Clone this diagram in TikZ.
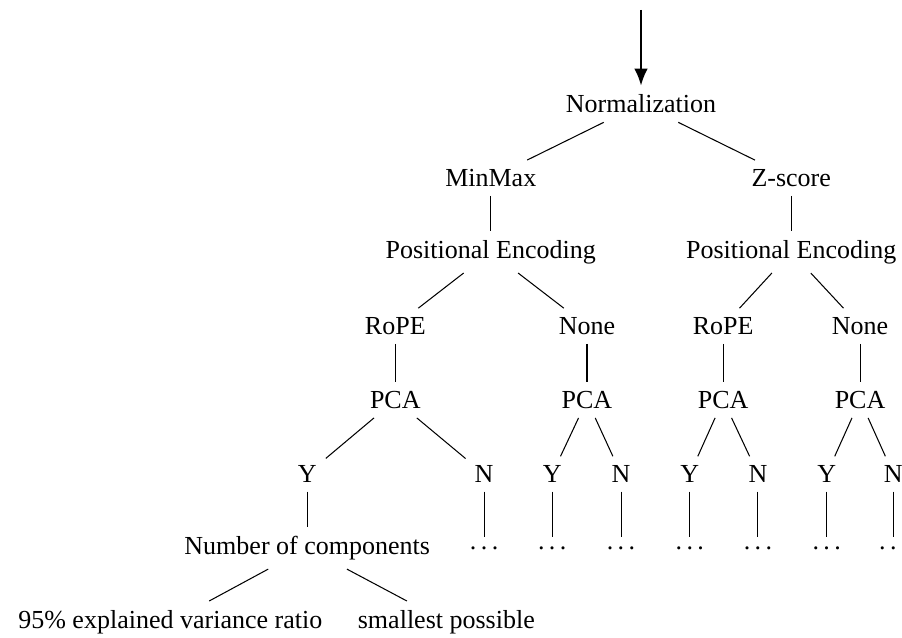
\documentclass[tikz,border=0pt]{standalone}
\usepackage{fontspec}
\setmainfont{Liberation Serif}
\usepackage{tikz}
\usetikzlibrary{arrows.meta,positioning,calc}
\newcommand{\moredots}{.\kern.17em.\kern.17em.}

\begin{document}
\begin{tikzpicture}[branch/.style={draw=black, line width=0.4pt}]
    \useasboundingbox (-8.662,1.405) rectangle (3.527,-7.203);
    \clip (-8.662,1.405) rectangle (3.527,-7.203);

    % Root
    \coordinate (start) at (0,1.27);
    \node (norm) at (0,0) {Normalization};
    \draw[thick, -{Latex[length=6.5pt,width=5.2pt]}] (start) -- (norm);

    % Normalization
    \node (minmax) at (-2.03,-1) {MinMax};
    \node (zscore) at (2.03,-1) {Z-score};
    \draw[branch] (norm) -- (minmax);
    \draw[branch] (norm) -- (zscore);

    % Positional encoding
    \node (peL) at (-2.03,-2) {Positional Encoding};
    \node (peR) at (2.03,-2) {Positional Encoding};
    \draw[branch] (minmax) -- (peL);
    \draw[branch] (zscore) -- (peR);

    \node (ropeL) at (-3.32,-3) {RoPE};
    \node (noneL) at (-0.73,-3) {None};
    \node (ropeR) at (1.11,-3) {RoPE};
    \node (noneR) at (2.96,-3) {None};
    \draw[branch] (peL) -- (ropeL);
    \draw[branch] (peL) -- (noneL);
    \draw[branch] (peR) -- (ropeR);
    \draw[branch] (peR) -- (noneR);

    % PCA
    \node (pcaA) at (-3.32,-4) {PCA};
    \node (pcaB) at (-0.73,-4) {PCA};
    \node (pcaC) at (1.11,-4) {PCA};
    \node (pcaD) at (2.96,-4) {PCA};
    \draw[branch] (ropeL) -- (pcaA);
    \draw[branch] (noneL) -- (pcaB);
    \draw[branch] (ropeR) -- (pcaC);
    \draw[branch] (noneR) -- (pcaD);

    % Y / N
    \node (yA) at (-4.51,-5) {Y};
    \node (nA) at (-2.12,-5) {N};
    \node (yB) at (-1.20,-5) {Y};
    \node (nB) at (-0.27,-5) {N};
    \node (yC) at (0.66,-5) {Y};
    \node (nC) at (1.58,-5) {N};
    \node (yD) at (2.51,-5) {Y};
    \node (nD) at (3.41,-5) {N};
    \foreach \p in {A,B,C,D} {
        \draw[branch] (pca\p) -- (y\p);
        \draw[branch] (pca\p) -- (n\p);
    }

    % Number of components
    \node (ncomp) at (-4.51,-6) {Number of components};
    \draw[branch] (yA) -- (ncomp);
    \node (varratio) at (-6.36,-7) {95\% explained variance ratio};
    \node (smallest) at (-2.63,-7) {smallest possible};
    \draw[branch] (ncomp) -- (varratio);
    \draw[branch] (ncomp) -- (smallest);

    % Remaining branches
    \foreach \b/\x in {nA/-2.12, yB/-1.20, nB/-0.27, yC/0.66, nC/1.58, yD/2.51, nD/3.41} {
        \node (dots\b) at (\x,-6) {\moredots};
        \draw[branch] (\b) -- (dots\b);
    }
\end{tikzpicture}
\end{document}
